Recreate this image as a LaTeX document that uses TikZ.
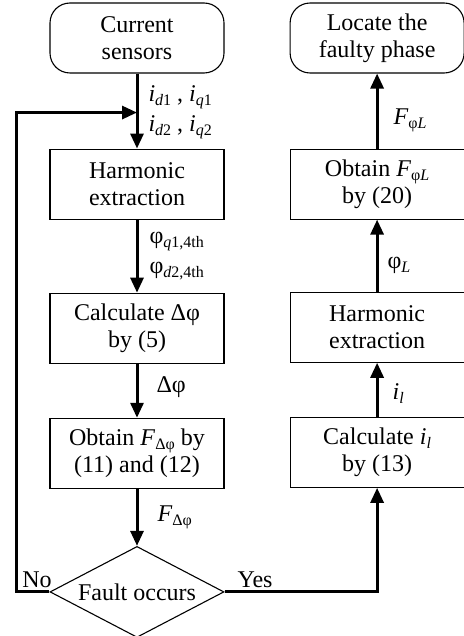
\documentclass[tikz,border=0pt]{standalone}
\usepackage{fontspec}
\setmainfont{Liberation Serif}
\usetikzlibrary{arrows.meta,positioning,shapes.geometric}
\newcommand{\lo}[1]{\raisebox{-4pt}{\fontsize{16}{16}\selectfont #1}}
\tikzset{
  box/.style={draw,line width=1.1pt,minimum width=174pt,minimum height=70pt,inner sep=0pt,
    align=center,font=\fontsize{24}{27}\selectfont},
  term/.style={box,rounded corners=20pt},
  dec/.style={draw,line width=1.1pt,shape=diamond,aspect=2,inner sep=0pt,
    minimum width=174pt,minimum height=91pt,font=\fontsize{24}{27}\selectfont},
  arr/.style={-{Triangle[length=15pt,width=13pt]},line width=3pt},
  lbl/.style={font=\fontsize{24}{27}\selectfont,align=left,inner sep=0pt},
}
\begin{document}
\begin{tikzpicture}[x=1pt,y=1pt]
  \useasboundingbox (0,0) rectangle (463,-636);
  % left column
  \node[term] (sensors) at (137,-38) {Current\\sensors};
  \node[box,below=75pt of sensors] (harmA) {Harmonic\\extraction};
  \node[box,below=73pt of harmA] (calcA) {Calculate Δφ\\by (5)};
  \node[box,below=54pt of calcA] (obtainA) {Obtain \textit{F}\lo{Δφ} by\\(11) and (12)};
  \node[dec,below=57pt of obtainA] (fault) {Fault occurs};
  % right column
  \node[term,right=65pt of sensors] (locate) {Locate the\\faulty phase};
  \node[box,below=75pt of locate] (obtainB) {Obtain \textit{F}\lo{φ\textit{L}}\\by (20)};
  \node[box,below=72pt of obtainB] (harmB) {Harmonic\\extraction};
  \node[box,below=54pt of harmB] (calcB) {Calculate \textit{i}\lo{\textit{l}}\\by (13)};
  \coordinate (feed) at ([yshift=-39pt]sensors.south);

  \draw[arr] (sensors) -- node[lbl,right=10pt,yshift=-1pt]
    {\textit{i}\lo{\textit{d}1} , \textit{i}\lo{\textit{q}1}\\[3pt]
     \textit{i}\lo{\textit{d}2} , \textit{i}\lo{\textit{q}2}} (harmA);
  \draw[arr] (harmA) -- node[lbl,right=11pt]
    {φ\lo{\textit{q}1,4th}\\[3pt]φ\lo{\textit{d}2,4th}} (calcA);
  \draw[arr] (calcA) -- node[lbl,right=18pt,yshift=4pt] {Δφ} (obtainA);
  \draw[arr] (obtainA) -- node[lbl,right=19pt] {\textit{F}\lo{Δφ}} (fault);
  \draw[arr] (fault.west) -- node[lbl,above=3pt,xshift=4pt] {No} ++(-33,0) |- (feed);
  \draw[arr] (fault.east) -| node[lbl,pos=0.1,above=3pt] {Yes} (calcB);
  \draw[arr] (calcB) -- node[lbl,right=14pt,yshift=-4pt] {\textit{i}\lo{\textit{l}}} (harmB);
  \draw[arr] (harmB) -- node[lbl,right=9pt,yshift=-10pt] {φ\lo{\textit{L}}} (obtainB);
  \draw[arr] (obtainB) -- node[lbl,right=15pt,yshift=-9pt] {\textit{F}\lo{φ\textit{L}}} (locate);
\end{tikzpicture}
\end{document}
